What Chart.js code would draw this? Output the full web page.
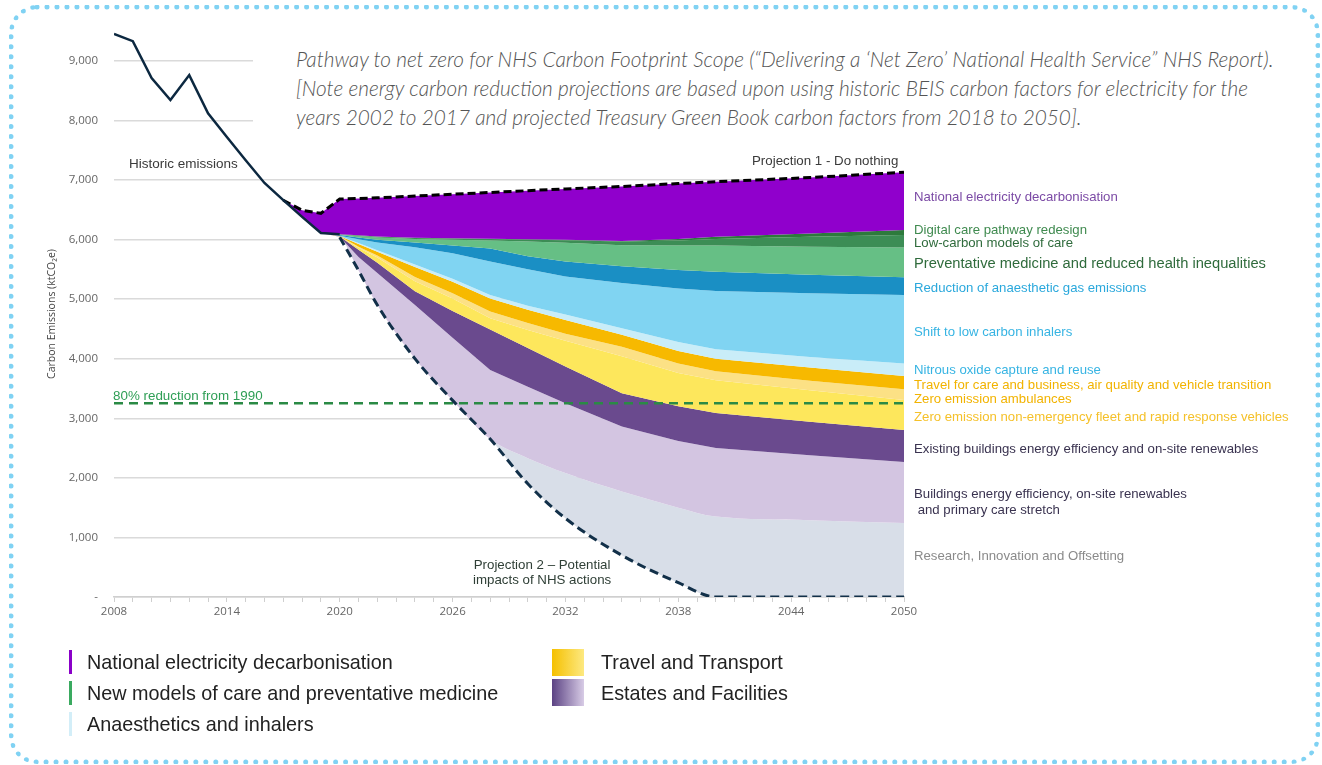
<!DOCTYPE html>
<html>
<head>
<meta charset="utf-8">
<script src="https://cdn.jsdelivr.net/npm/chart.js@4.4.1/dist/chart.umd.min.js"></script>
<style>
  html, body { margin: 0; padding: 0; background: #fff; }
  #wrap { position: relative; width: 1322px; height: 765px; overflow: hidden; font-family: 'Liberation Sans', Arial, sans-serif; }
  #chart { position: absolute; left: 0; top: 0; }
  .frame { position: absolute; left: 9px; top: 5px; width: 1311px; height: 759px; box-sizing: border-box; border: 5px dotted #80d2f3; border-radius: 28px; }
  .title { position: absolute; left: 253px; top: 36px; width: 1050px; height: 112px; background: #fff; }
  .title p { margin: 0; position: absolute; left: 43px; top: 8px; font: italic 300 20.8px/29px Lato, 'Open Sans', sans-serif; color: #555; white-space: nowrap; }
  .lbl { position: absolute; white-space: nowrap; font-size: 13.2px; line-height: 15px; transform: translateY(-50%); }
  .side { left: 914px; }
  .note { color: #3a3a3a; font-size: 13.3px; }
  .legend { position: absolute; font-size: 19.8px; line-height: 24px; color: #222; white-space: nowrap; transform: translateY(-50%); }
  .bar { position: absolute; left: 69px; width: 3px; height: 24px; }
  .swatch { position: absolute; left: 552px; width: 32px; height: 27px; }
</style>
</head>
<body>
<div id="wrap">
  <canvas id="chart" width="1322" height="765"></canvas>

  <div class="title"><p>Pathway to net zero for NHS Carbon Footprint Scope (“Delivering a ‘Net Zero’ National Health Service” NHS Report).<br>[Note energy carbon reduction projections are based upon using historic BEIS carbon factors for electricity for the<br>years 2002 to 2017 and projected Treasury Green Book carbon factors from 2018 to 2050].</p></div>

  <div class="lbl note" style="left:129px; top:163px; font-size:13.5px;">Historic emissions</div>
  <div class="lbl note" style="left:752px; top:160px;">Projection 1 - Do nothing</div>
  <div class="lbl note" style="left:473px; top:572px; text-align:center; line-height:15px; color:#2f3f36;">Projection 2 – Potential<br>impacts of NHS actions</div>
  <div class="lbl" style="left:113px; top:395px; font-size:13.4px; color:#2e9e55;">80% reduction from 1990</div>

  <!-- wedge labels on the right -->
  <div class="lbl side" style="top:196px; color:#7b4aa5;">National electricity decarbonisation</div>
  <div class="lbl side" style="top:229px; color:#3f8a4f;">Digital care pathway redesign</div>
  <div class="lbl side" style="top:242px; color:#2f6b3c;">Low-carbon models of care</div>
  <div class="lbl side" style="top:263px; color:#2f6b3c; font-size:14.7px;">Preventative medicine and reduced health inequalities</div>
  <div class="lbl side" style="top:287px; color:#2aa8dc;">Reduction of anaesthetic gas emissions</div>
  <div class="lbl side" style="top:331px; color:#37b4e3;">Shift to low carbon inhalers</div>
  <div class="lbl side" style="top:369px; color:#37b4e3;">Nitrous oxide capture and reuse</div>
  <div class="lbl side" style="top:384px; color:#f2b300;">Travel for care and business, air quality and vehicle transition</div>
  <div class="lbl side" style="top:398px; color:#f2b300;">Zero emission ambulances</div>
  <div class="lbl side" style="top:416px; color:#f5c12a;">Zero emission non-emergency fleet and rapid response vehicles</div>
  <div class="lbl side" style="top:448px; color:#3a3350;">Existing buildings energy efficiency and on-site renewables</div>
  <div class="lbl side" style="top:502px; color:#3a3350; line-height:16px;">Buildings energy efficiency, on-site renewables<br>&nbsp;and primary care stretch</div>
  <div class="lbl side" style="top:555px; color:#8a8a8a;">Research, Innovation and Offsetting</div>

  <!-- group legend -->
  <div class="bar" style="top:650px; background:#8a00c8;"></div>
  <div class="legend" style="left:87px; top:662px;">National electricity decarbonisation</div>
  <div class="bar" style="top:681px; background:#3aaa60;"></div>
  <div class="legend" style="left:87px; top:693px;">New models of care and preventative medicine</div>
  <div class="bar" style="top:712px; background:#d3eef8;"></div>
  <div class="legend" style="left:87px; top:724px;">Anaesthetics and inhalers</div>
  <div class="swatch" style="top:649px; background:linear-gradient(to right, #f5c000, #fde981);"></div>
  <div class="legend" style="left:601px; top:662px;">Travel and Transport</div>
  <div class="swatch" style="top:679px; background:linear-gradient(to right, #5b4283, #d8cce6);"></div>
  <div class="legend" style="left:601px; top:693px;">Estates and Facilities</div>

  <div class="frame"></div>
</div>

<script>
// NHS net zero pathway — stacked wedges between "do nothing" and "NHS actions"

const historicYears = [2008, 2009, 2010, 2011, 2012, 2013, 2014, 2015, 2016, 2017, 2018, 2019, 2020]
const historic = [9450, 9330, 8710, 8340, 8760, 8120, 7720, 7330, 6950, 6660, 6380, 6110, 6090]

const years = [2017, 2018, 2019, 2020, 2021, 2022, 2024, 2026, 2028, 2030, 2032, 2035, 2038, 2040, 2045, 2050]

// projection 1 (top of the wedges)
const doNothing = [6660, 6490, 6440, 6680, 6690, 6700, 6730, 6760, 6790, 6820, 6850, 6890, 6940, 6970, 7040, 7130]

// lower edge of each wedge, top to bottom
const electricityLow = [6660, 6380, 6110, 6090, 6070, 6050, 6030, 6020, 6015, 6005, 5995, 5975, 6010, 6045, 6100, 6158]
const digitalLow = [6660, 6380, 6110, 6085, 6065, 6045, 6025, 6015, 6010, 5998, 5988, 5965, 5985, 6010, 6045, 6074]
const lowCarbonLow = [6660, 6380, 6110, 6080, 6058, 6035, 6010, 5995, 5985, 5965, 5945, 5905, 5900, 5900, 5880, 5868]
const preventativeLow = [6660, 6380, 6110, 6075, 6035, 5995, 5950, 5900, 5850, 5720, 5630, 5550, 5490, 5460, 5410, 5365]
const anaestheticLow = [6660, 6380, 6110, 6065, 6005, 5950, 5870, 5770, 5630, 5500, 5380, 5270, 5180, 5135, 5100, 5068]
const inhalerLow = [6660, 6380, 6110, 6060, 5940, 5820, 5580, 5340, 5070, 4890, 4740, 4510, 4280, 4160, 4030, 3921]
const nitrousLow = [6660, 6380, 6110, 6058, 5925, 5795, 5540, 5290, 5010, 4820, 4650, 4400, 4130, 4000, 3850, 3708]
const travelLow = [6660, 6380, 6110, 6055, 5880, 5730, 5370, 5100, 4790, 4600, 4420, 4200, 3920, 3790, 3630, 3485]
const ambulanceLow = [6660, 6380, 6110, 6052, 5860, 5700, 5300, 5010, 4680, 4480, 4300, 4040, 3760, 3640, 3470, 3306]
const fleetLow = [6660, 6380, 6110, 6050, 5830, 5610, 5130, 4800, 4490, 4180, 3870, 3420, 3200, 3090, 2940, 2802]
const buildingsLow = [6660, 6380, 6110, 6045, 5705, 5440, 4900, 4350, 3810, 3530, 3250, 2860, 2620, 2500, 2380, 2265]
const primaryCareLow = [6660, 6380, 6110, 6040, 5480, 4900, 4000, 3300, 2650, 2330, 2080, 1770, 1500, 1350, 1290, 1242]
// projection 2 (bottom of the wedges)
const nhsActions = [6660, 6380, 6110, 6040, 5480, 4900, 4000, 3300, 2650, 1900, 1320, 700, 240, 0, 0, 0]

const reductionYears = [2008, 2050]
const reduction80 = [3250, 3250]

const yTicks = [0, 1000, 2000, 3000, 4000, 5000, 6000, 7000, 8000, 9000]
const xLabelYears = [2008, 2014, 2020, 2026, 2032, 2038, 2044, 2050]

const wedges = [
  { low: electricityLow, color: '#9000cc' },
  { low: digitalLow, color: '#2d7a3c' },
  { low: lowCarbonLow, color: '#3c8d55' },
  { low: preventativeLow, color: '#66bf85' },
  { low: anaestheticLow, color: '#1a8fc4' },
  { low: inhalerLow, color: '#80d4f2' },
  { low: nitrousLow, color: '#c9edf8' },
  { low: travelLow, color: '#f7b900' },
  { low: ambulanceLow, color: '#fce185' },
  { low: fleetLow, color: '#fde75c' },
  { low: buildingsLow, color: '#6a4a8e' },
  { low: primaryCareLow, color: '#d3c5e1', smooth: true },
  { low: nhsActions, color: '#d8dee8', smooth: true },
]

const xy = (xs, ys) => xs.map((x, i) => ({ x, y: ys[i] }))

Chart.defaults.font.family = "'Open Sans','Liberation Sans',sans-serif"
Chart.defaults.color = '#666'

const NONE = 'rgba(0,0,0,0)'

const datasets = [
  {
    data: xy(historicYears, historic),
    borderColor: '#0c2840', borderWidth: 2.5, pointRadius: 0, fill: false,
  },
  {
    data: xy(years, doNothing),
    borderColor: '#000', borderWidth: 3, borderDash: [8, 4], pointRadius: 0, fill: false,
  },
  {
    data: xy(years, nhsActions.map((v, i) => years[i] < 2020 ? null : v)),
    borderColor: '#123049', borderWidth: 3, borderDash: [9, 5], pointRadius: 0, fill: false,
    cubicInterpolationMode: 'monotone',
  },
  {
    data: xy(reductionYears, reduction80),
    borderColor: '#2a8a45', borderWidth: 2.5, borderDash: [9, 6], pointRadius: 0, fill: false,
  },
  // invisible top edge that the first wedge fills down from
  { data: xy(years, doNothing), borderColor: NONE, borderWidth: 0, pointRadius: 0, fill: false },
]

wedges.forEach(w => {
  datasets.push({
    data: xy(years, w.low),
    borderColor: NONE,
    borderWidth: 0,
    backgroundColor: w.color,
    pointRadius: 0,
    fill: '-1',
    cubicInterpolationMode: w.smooth ? 'monotone' : 'default',
  })
})

new Chart(document.getElementById('chart'), {
  type: 'line',
  data: { datasets },
  options: {
    responsive: false,
    animation: false,
    events: [],
    layout: { padding: { left: 46, right: 418, top: 31, bottom: 138 } },
    plugins: { legend: { display: false }, tooltip: { enabled: false } },
    scales: {
      x: {
        type: 'linear',
        min: 2008,
        max: 2050,
        afterFit: s => { s.height = 30 },
        border: { color: '#cfcfcf', width: 1.5 },
        grid: { drawOnChartArea: false, drawTicks: true, tickLength: 5, color: '#cfcfcf' },
        ticks: {
          stepSize: 1,
          autoSkip: false,
          maxRotation: 0,
          padding: 3,
          font: { size: 11.5 },
          color: '#666',
          callback: v => xLabelYears.includes(v) ? String(v) : '',
        },
      },
      y: {
        min: 0,
        max: 9500,
        afterFit: s => { s.width = 68 },
        afterBuildTicks: s => { s.ticks = yTicks.map(value => ({ value })) },
        border: { display: false },
        grid: { color: '#dadada', lineWidth: 1.5, drawTicks: false },
        ticks: {
          autoSkip: false,
          padding: 16,
          font: { size: 11.5 },
          color: '#666',
          callback: v => v === 0 ? '-' : v.toLocaleString('en-US'),
        },
        title: {
          display: true,
          text: 'Carbon Emissions (ktCO₂e)',
          font: { size: 10.5 },
          color: '#444',
          padding: { top: 0, bottom: 0 },
        },
      },
    },
  },
})
</script>
</body>
</html>
